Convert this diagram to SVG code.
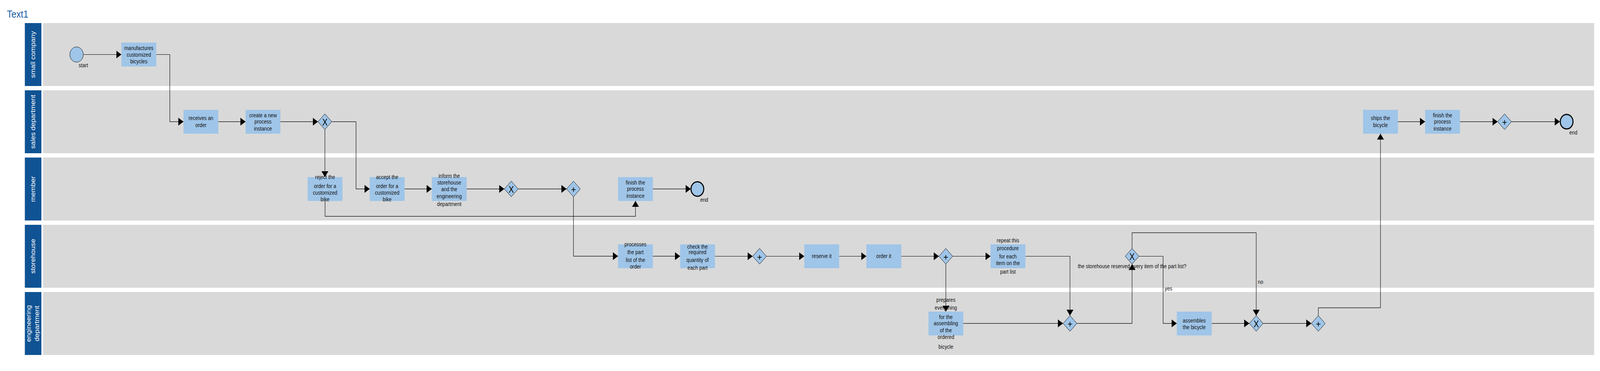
<svg xmlns="http://www.w3.org/2000/svg" width="4639" height="949" viewBox="0 0 4639 949" preserveAspectRatio="none">
<style>
svg{width:100vw;height:100vh}
.lane{fill:#d9d9d9}
.lbl{fill:#0f5394}
.lt{fill:#ffffff;font-family:"Liberation Sans",Arial,sans-serif;font-size:18px;text-anchor:middle}
.task{fill:#9fc5e8}
.tt{font-family:"Liberation Sans",Arial,sans-serif;font-size:14px;fill:#111111;text-anchor:middle}
.lab{font-family:"Liberation Sans",Arial,sans-serif;font-size:14px;fill:#111111}
.gw{fill:#9fc5e8;stroke:#000000;stroke-width:1}
.gx{font-family:"Liberation Sans",Arial,sans-serif;font-size:23px;fill:#000000;text-anchor:middle}
.gp{font-family:"Liberation Sans",Arial,sans-serif;font-size:24px;fill:#000000;text-anchor:middle}
.ev{fill:#9fc5e8;stroke:#000000;stroke-width:1}
.evend{fill:#9fc5e8;stroke:#000000;stroke-width:3}
.cn{fill:none;stroke:#000000;stroke-width:1.2;marker-end:url(#arr)}
.title{font-family:"Liberation Sans",Arial,sans-serif;font-size:26px;fill:#175aa0}
</style>
<defs>
<marker id="arr" markerUnits="userSpaceOnUse" markerWidth="16" markerHeight="21" refX="15" refY="10" orient="auto" viewBox="0 0 16 21">
<path d="M0,0 L15,10 L0,20 z" fill="#000000"/>
</marker>
</defs>
<rect width="4639" height="949" fill="#ffffff"/>
<text class="title" x="20" y="45">Text1</text>

<g id="lanes">
<g id="lane-small-company">
<rect class="lbl" x="72" y="59" width="48" height="161"/>
<rect class="lane" x="125" y="59" width="4497" height="161"/>
<text class="lt" transform="translate(102,139.5) rotate(-90)">small company</text>
</g>
<g id="lane-sales-department">
<rect class="lbl" x="72" y="231" width="48" height="161"/>
<rect class="lane" x="125" y="231" width="4497" height="161"/>
<text class="lt" transform="translate(102,311.5) rotate(-90)">sales department</text>
</g>
<g id="lane-member">
<rect class="lbl" x="72" y="403" width="48" height="161"/>
<rect class="lane" x="125" y="403" width="4497" height="161"/>
<text class="lt" transform="translate(102,483.5) rotate(-90)">member</text>
</g>
<g id="lane-storehouse">
<rect class="lbl" x="72" y="575" width="48" height="161"/>
<rect class="lane" x="125" y="575" width="4497" height="161"/>
<text class="lt" transform="translate(102,655.5) rotate(-90)">storehouse</text>
</g>
<g id="lane-engineering-department">
<rect class="lbl" x="72" y="747" width="48" height="161"/>
<rect class="lane" x="125" y="747" width="4497" height="161"/>
<text class="lt" transform="translate(90,827.5) rotate(-90)">engineering</text>
<text class="lt" transform="translate(113.5,827.5) rotate(-90)">department</text>
</g>
</g>

<g id="start">
<circle class="ev" cx="222" cy="139.5" r="19.5"/>
<text class="lab" x="228" y="172.5">start</text>
</g>
<g id="manufactures">
<rect class="task" x="352" y="109" width="101" height="61"/>
<text class="tt" x="402.5" y="128">manufactures</text>
<text class="tt" x="402.5" y="145">customized</text>
<text class="tt" x="402.5" y="162">bicycles</text>
</g>
<g id="receives">
<rect class="task" x="532" y="281" width="101" height="61"/>
<text class="tt" x="582.5" y="307.5">receives an</text>
<text class="tt" x="582.5" y="325.5">order</text>
</g>
<g id="create">
<rect class="task" x="712" y="281" width="101" height="61"/>
<text class="tt" x="762.5" y="300">create a new</text>
<text class="tt" x="762.5" y="316.5">process</text>
<text class="tt" x="762.5" y="334">instance</text>
</g>
<g id="gw1">
<path class="gw" d="M942,291.3 L962,311.3 L942,331.3 L922,311.3 z"/>
<text class="gx" x="942" y="321">X</text>
</g>
<g id="reject">
<rect class="task" x="892" y="453" width="101" height="61"/>
<text class="tt" x="942.5" y="458">reject the</text>
<text class="tt" x="942.5" y="481">order for a</text>
<text class="tt" x="942.5" y="498.3">customized</text>
<text class="tt" x="942.5" y="515">bike</text>
</g>
<g id="accept">
<rect class="task" x="1072" y="453" width="101" height="61"/>
<text class="tt" x="1122.5" y="457.7">accept the</text>
<text class="tt" x="1122.5" y="481">order for a</text>
<text class="tt" x="1122.5" y="498.3">customized</text>
<text class="tt" x="1122.5" y="515">bike</text>
</g>
<g id="inform">
<rect class="task" x="1252" y="453" width="101" height="61"/>
<text class="tt" x="1302.5" y="455">inform the</text>
<text class="tt" x="1302.5" y="472.3">storehouse</text>
<text class="tt" x="1302.5" y="489">and the</text>
<text class="tt" x="1302.5" y="507.5">engineering</text>
<text class="tt" x="1302.5" y="527.5">department</text>
</g>
<g id="gw2">
<path class="gw" d="M1482.3,463.3 L1502.3,483.3 L1482.3,503.3 L1462.3,483.3 z"/>
<text class="gx" x="1482.3" y="493">X</text>
</g>
<g id="gw3">
<path class="gw" d="M1662.7,463.3 L1682.7,483.3 L1662.7,503.3 L1642.7,483.3 z"/>
<text class="gp" x="1662.7" y="493.5">+</text>
</g>
<g id="finish-member">
<rect class="task" x="1792" y="453" width="101" height="61"/>
<text class="tt" x="1842.5" y="472.3">finish the</text>
<text class="tt" x="1842.5" y="488.5">process</text>
<text class="tt" x="1842.5" y="505.7">instance</text>
</g>
<g id="end-member">
<circle class="evend" cx="2022" cy="483.5" r="18.5"/>
<text class="lab" x="2030" y="516">end</text>
</g>
<g id="processes">
<rect class="task" x="1792" y="625" width="101" height="61"/>
<text class="tt" x="1842.5" y="630">processes</text>
<text class="tt" x="1842.5" y="650">the part</text>
<text class="tt" x="1842.5" y="670">list of the</text>
<text class="tt" x="1842.5" y="686.7">order</text>
</g>
<g id="check">
<rect class="task" x="1972" y="625" width="101" height="61"/>
<text class="tt" x="2022.5" y="636">check the</text>
<text class="tt" x="2022.5" y="650">required</text>
<text class="tt" x="2022.5" y="670">quantity of</text>
<text class="tt" x="2022.5" y="690">each part</text>
</g>
<g id="gw4">
<path class="gw" d="M2202.3,635.5 L2222.3,655.5 L2202.3,675.5 L2182.3,655.5 z"/>
<text class="gp" x="2202.3" y="665.7">+</text>
</g>
<g id="reserve">
<rect class="task" x="2332" y="625" width="101" height="61"/>
<text class="tt" x="2382.5" y="660.5">reserve it</text>
</g>
<g id="order">
<rect class="task" x="2512" y="625" width="101" height="61"/>
<text class="tt" x="2562.5" y="660.5">order it</text>
</g>
<g id="gw5">
<path class="gw" d="M2742.3,635.5 L2762.3,655.5 L2742.3,675.5 L2722.3,655.5 z"/>
<text class="gp" x="2742.3" y="665.7">+</text>
</g>
<g id="repeat">
<rect class="task" x="2872" y="625" width="101" height="61"/>
<text class="tt" x="2922.5" y="620">repeat this</text>
<text class="tt" x="2922.5" y="640">procedure</text>
<text class="tt" x="2922.5" y="661">for each</text>
<text class="tt" x="2922.5" y="678.3">item on the</text>
<text class="tt" x="2922.5" y="700">part list</text>
</g>
<g id="gw6">
<path class="gw" d="M3282.3,635.5 L3302.3,655.5 L3282.3,675.5 L3262.3,655.5 z"/>
<text class="gx" x="3282.3" y="665.2">X</text>
<text class="lab" x="3282.3" y="686.5" text-anchor="middle">the storehouse reserved every item of the part list?</text>
</g>
<g id="prepares">
<rect class="task" x="2692" y="797" width="101" height="61"/>
<text class="tt" x="2742.5" y="772.3">prepares</text>
<text class="tt" x="2742.5" y="792.3">everything</text>
<text class="tt" x="2742.5" y="815.7">for the</text>
<text class="tt" x="2742.5" y="832.3">assembling</text>
<text class="tt" x="2742.5" y="850.3">of the</text>
<text class="tt" x="2742.5" y="867">ordered</text>
<text class="tt" x="2742.5" y="892.3">bicycle</text>
</g>
<g id="gw7">
<path class="gw" d="M3102.3,807.3 L3122.3,827.3 L3102.3,847.3 L3082.3,827.3 z"/>
<text class="gp" x="3102.3" y="837.5">+</text>
</g>
<g id="assembles">
<rect class="task" x="3412" y="797" width="101" height="61"/>
<text class="tt" x="3462.5" y="825">assembles</text>
<text class="tt" x="3462.5" y="841.7">the bicycle</text>
</g>
<g id="gw8">
<path class="gw" d="M3642.3,807.3 L3662.3,827.3 L3642.3,847.3 L3622.3,827.3 z"/>
<text class="gx" x="3642.3" y="837">X</text>
</g>
<g id="gw9">
<path class="gw" d="M3822.3,807.3 L3842.3,827.3 L3822.3,847.3 L3802.3,827.3 z"/>
<text class="gp" x="3822.3" y="837.5">+</text>
</g>
<g id="ships">
<rect class="task" x="3952" y="281" width="101" height="61"/>
<text class="tt" x="4002.5" y="307.5">ships the</text>
<text class="tt" x="4002.5" y="325.5">bicycle</text>
</g>
<g id="finish-sales">
<rect class="task" x="4132" y="281" width="101" height="61"/>
<text class="tt" x="4182.5" y="300">finish the</text>
<text class="tt" x="4182.5" y="316.5">process</text>
<text class="tt" x="4182.5" y="334">instance</text>
</g>
<g id="gw10">
<path class="gw" d="M4362.3,291.3 L4382.3,311.3 L4362.3,331.3 L4342.3,311.3 z"/>
<text class="gp" x="4362.3" y="321.5">+</text>
</g>
<g id="end-sales">
<circle class="evend" cx="4542.3" cy="311.3" r="18.5"/>
<text class="lab" x="4550" y="344.3">end</text>
</g>

<g id="connector-labels">
<text class="lab" x="3377" y="743.5">yes</text>
<text class="lab" x="3647" y="726.5">no</text>
</g>

<g id="connectors">
<path class="cn" d="M242,139.5 H352"/>
<path class="cn" d="M453,139.5 H492.3 V311.3 H532"/>
<path class="cn" d="M633,311.3 H712"/>
<path class="cn" d="M813,311.3 H922"/>
<path class="cn" d="M942,331.3 V453"/>
<path class="cn" d="M962,311.3 H1032.3 V483.3 H1072"/>
<path class="cn" d="M942.5,514 V553.3 H1842.5 V514"/>
<path class="cn" d="M1173,483.3 H1252"/>
<path class="cn" d="M1353,483.3 H1462.3"/>
<path class="cn" d="M1502.3,483.3 H1642.7"/>
<path class="cn" d="M1893,483.3 H2003"/>
<path class="cn" d="M1662.7,503.3 V655.3 H1792"/>
<path class="cn" d="M1893,655.3 H1972"/>
<path class="cn" d="M2073,655.5 H2182.3"/>
<path class="cn" d="M2222.3,655.5 H2332"/>
<path class="cn" d="M2433,655.5 H2512"/>
<path class="cn" d="M2613,655.5 H2722.3"/>
<path class="cn" d="M2762.3,655.5 H2872"/>
<path class="cn" d="M2742.3,675.5 V797"/>
<path class="cn" d="M2973,655.5 H3102.3 V807.3"/>
<path class="cn" d="M2793,827.3 H3082.3"/>
<path class="cn" d="M3122.3,827.3 H3282.3 V675.5"/>
<path class="cn" d="M3282.3,635.5 V595.3 H3642.3 V807.3"/>
<path class="cn" d="M3302.3,655.5 H3372.3 V827.3 H3412"/>
<path class="cn" d="M3513,827.3 H3622.3"/>
<path class="cn" d="M3662.3,827.3 H3802.3"/>
<path class="cn" d="M3822.3,807.3 V787.3 H4002.5 V342"/>
<path class="cn" d="M4053,311.3 H4132"/>
<path class="cn" d="M4233,311.3 H4342.3"/>
<path class="cn" d="M4382.3,311.3 H4522.8"/>
</g>
</svg>
